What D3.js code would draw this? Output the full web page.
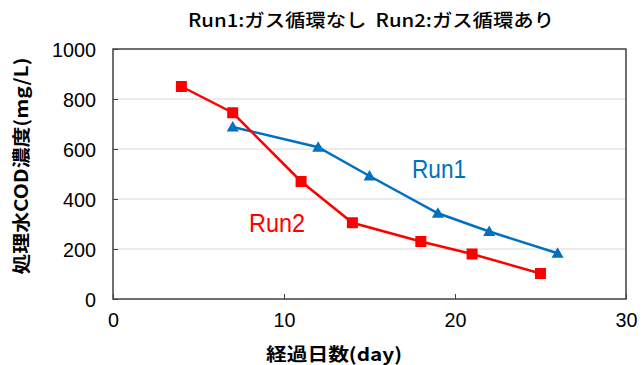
<!DOCTYPE html>
<html>
<head>
<meta charset="utf-8">
<script src="https://cdn.jsdelivr.net/npm/d3@7"></script>
<style>
  html, body { margin: 0; padding: 0; background: #fff; }
  svg { display: block; }
  text { font-family: "Liberation Sans", "Noto Sans CJK JP", sans-serif; fill: #000; }
  .jp { font-family: "Noto Sans CJK JP", sans-serif; white-space: pre; }
</style>
</head>
<body>
<svg id="chart" width="643" height="365"></svg>
<script>
// Treated-water COD concentration over elapsed days
const run1Days = [7, 12, 15, 19, 22, 26];
const run1Cod  = [688, 607, 492, 343, 270, 183];
const run2Days = [4, 7, 11, 14, 18, 21, 25];
const run2Cod  = [850, 745, 470, 305, 230, 180, 102];
const xTicks = [0, 10, 20, 30];
const yTicks = [0, 200, 400, 600, 800, 1000];

const titleText = "Run1:ガス循環なし  Run2:ガス循環あり";
const xLabel = "経過日数(day)";
const yLabel = "処理水COD濃度(mg/L)";

const svg = d3.select("#chart");
const margin = { left: 113, right: 17, top: 49, bottom: 66 };
const W = 643, H = 365;

const x = d3.scaleLinear().domain([0, 30]).range([margin.left, W - margin.right]);
const y = d3.scaleLinear().domain([0, 1000]).range([H - margin.bottom, margin.top]);

// horizontal gridlines
svg.append("g")
  .selectAll("line")
  .data(yTicks.filter(v => v > 0 && v < 1000))
  .join("line")
  .attr("x1", x(0)).attr("x2", x(30))
  .attr("y1", d => y(d)).attr("y2", d => y(d))
  .attr("stroke", "#d9d9d9").attr("stroke-width", 1);

// axes with inward ticks
const fmt = d3.format("d");
const xAxis = d3.axisBottom(x).tickValues(xTicks).tickFormat(fmt).tickSizeInner(-5).tickSizeOuter(0).tickPadding(13);
const yAxis = d3.axisLeft(y).tickValues(yTicks).tickFormat(fmt).tickSizeInner(-5).tickSizeOuter(0).tickPadding(17);

const gx = svg.append("g").attr("transform", `translate(0,${y(0)})`).call(xAxis);
const gy = svg.append("g").attr("transform", `translate(${x(0)},0)`).call(yAxis);
[gx, gy].forEach(g => {
  g.select(".domain").remove();
  g.selectAll(".tick line").attr("stroke", "#404040").attr("stroke-width", 1);
  g.selectAll(".tick text")
    .attr("font-size", 21)
    .attr("font-family", "Liberation Sans, sans-serif")
    .attr("fill", "#000")
    .attr("textLength", function () { return this.textContent.length * 11; })
    .attr("lengthAdjust", "spacingAndGlyphs");
});
gx.selectAll(".tick text").attr("dy", "0.71em");
gy.selectAll(".tick text").attr("dy", "0.35em");

// plot frame
svg.append("rect")
  .attr("x", x(0)).attr("y", y(1000))
  .attr("width", x(30) - x(0)).attr("height", y(0) - y(1000))
  .attr("fill", "none").attr("stroke", "#404040").attr("stroke-width", 1.5);

const line = d3.line().x(d => x(d[0])).y(d => y(d[1]));
const run1 = run1Days.map((d, i) => [d, run1Cod[i]]);
const run2 = run2Days.map((d, i) => [d, run2Cod[i]]);

const blue = "#0070c0", red = "#ff0000";

svg.append("path").datum(run1).attr("d", line)
  .attr("fill", "none").attr("stroke", blue).attr("stroke-width", 2.5);
svg.append("path").datum(run2).attr("d", line)
  .attr("fill", "none").attr("stroke", red).attr("stroke-width", 2.5);

// triangle markers for Run1
svg.append("g").selectAll("path")
  .data(run1).join("path")
  .attr("d", d => {
    const cx = x(d[0]), cy = y(d[1]);
    return `M${cx},${cy - 6}L${cx + 6},${cy + 4.5}L${cx - 6},${cy + 4.5}Z`;
  })
  .attr("fill", blue);

// square markers for Run2
svg.append("g").selectAll("rect")
  .data(run2).join("rect")
  .attr("x", d => x(d[0]) - 5.5).attr("y", d => y(d[1]) - 5.5)
  .attr("width", 11).attr("height", 11)
  .attr("fill", red);

// series labels
svg.append("text").attr("x", 439).attr("y", 178)
  .attr("text-anchor", "middle").attr("font-size", 26)
  .attr("textLength", 54).attr("lengthAdjust", "spacingAndGlyphs")
  .style("fill", blue).text("Run1");
svg.append("text").attr("x", 277).attr("y", 232)
  .attr("text-anchor", "middle").attr("font-size", 26)
  .attr("textLength", 56).attr("lengthAdjust", "spacingAndGlyphs")
  .style("fill", red).text("Run2");

// title
svg.append("text").attr("class", "jp")
  .attr("x", 371).attr("y", 27)
  .attr("text-anchor", "middle").attr("font-size", 18).attr("font-weight", 500)
  .attr("textLength", 366).attr("lengthAdjust", "spacingAndGlyphs")
  .text(titleText);

// axis titles
svg.append("text").attr("class", "jp")
  .attr("x", 334).attr("y", 361)
  .attr("text-anchor", "middle").attr("font-size", 18).attr("font-weight", "bold")
  .attr("textLength", 136).attr("lengthAdjust", "spacingAndGlyphs")
  .text(xLabel);
svg.append("text").attr("class", "jp")
  .attr("transform", "translate(28,166) rotate(-90)")
  .attr("text-anchor", "middle").attr("font-size", 18).attr("font-weight", "bold")
  .attr("textLength", 217).attr("lengthAdjust", "spacingAndGlyphs")
  .text(yLabel);
</script>
</body>
</html>
